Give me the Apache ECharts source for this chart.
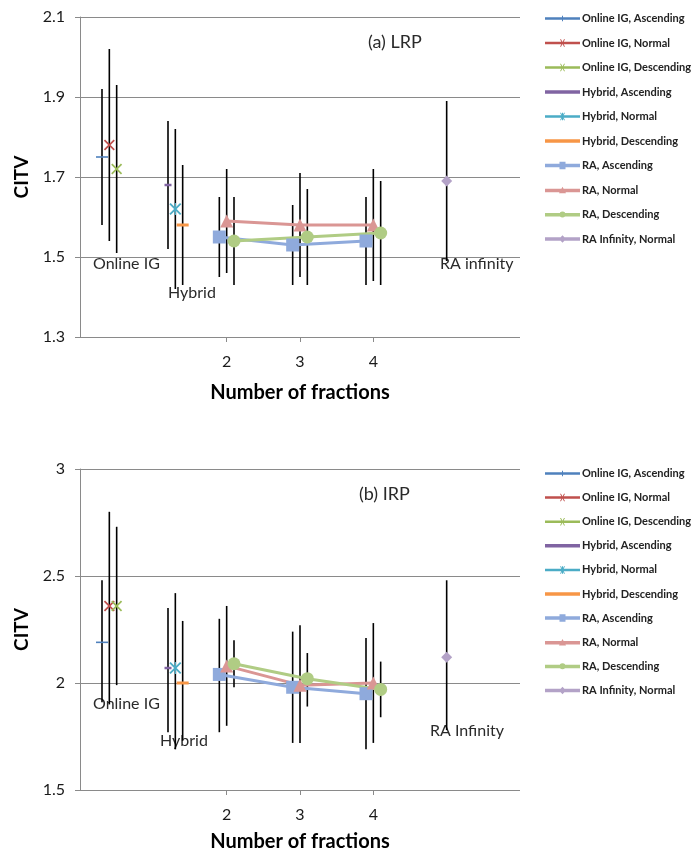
<!DOCTYPE html>
<html>
<head>
<meta charset="utf-8">
<script src="https://cdn.jsdelivr.net/npm/echarts@6/dist/echarts.min.js"></script>
<style>
html,body{margin:0;padding:0;background:#fff;}
#chart{width:691px;height:853px;}
</style>
</head>
<body>
<div id="chart"></div>
<script>
// ---------- DATA ----------
const seriesNames = ['Online IG, Ascending','Online IG, Normal','Online IG, Descending','Hybrid, Ascending','Hybrid, Normal','Hybrid, Descending','RA, Ascending','RA, Normal','RA, Descending','RA Infinity, Normal'];
const xTicks = [2, 3, 4];

// x positions of each series (x axis: number of fractions, groups offset)
const xOnlineAsc = [0.3];
const xOnlineNorm = [0.4];
const xOnlineDesc = [0.5];
const xHybridAsc = [1.2];
const xHybridNorm = [1.3];
const xHybridDesc = [1.4];
const xRAAsc = [1.9, 2.9, 3.9];
const xRANorm = [2, 3, 4];
const xRADesc = [2.1, 3.1, 4.1];
const xRAInf = [5];

// (a) LRP
const lrpOnlineAsc = [1.75],  lrpOnlineAscLo = [1.58],  lrpOnlineAscHi = [1.92];
const lrpOnlineNorm = [1.78], lrpOnlineNormLo = [1.54], lrpOnlineNormHi = [2.02];
const lrpOnlineDesc = [1.72], lrpOnlineDescLo = [1.51], lrpOnlineDescHi = [1.93];
const lrpHybridAsc = [1.68],  lrpHybridAscLo = [1.52],  lrpHybridAscHi = [1.84];
const lrpHybridNorm = [1.62], lrpHybridNormLo = [1.42], lrpHybridNormHi = [1.82];
const lrpHybridDesc = [1.58], lrpHybridDescLo = [1.43], lrpHybridDescHi = [1.73];
const lrpRAAsc = [1.55, 1.53, 1.54],  lrpRAAscLo = [1.45, 1.43, 1.43],  lrpRAAscHi = [1.65, 1.63, 1.65];
const lrpRANorm = [1.59, 1.58, 1.58], lrpRANormLo = [1.46, 1.45, 1.44], lrpRANormHi = [1.72, 1.71, 1.72];
const lrpRADesc = [1.54, 1.55, 1.56], lrpRADescLo = [1.43, 1.43, 1.43], lrpRADescHi = [1.65, 1.67, 1.69];
const lrpRAInf = [1.69], lrpRAInfLo = [1.49], lrpRAInfHi = [1.89];

// (b) IRP
const irpOnlineAsc = [2.19],  irpOnlineAscLo = [1.91],  irpOnlineAscHi = [2.48];
const irpOnlineNorm = [2.36], irpOnlineNormLo = [1.90], irpOnlineNormHi = [2.80];
const irpOnlineDesc = [2.36], irpOnlineDescLo = [1.99], irpOnlineDescHi = [2.73];
const irpHybridAsc = [2.07],  irpHybridAscLo = [1.77],  irpHybridAscHi = [2.35];
const irpHybridNorm = [2.07], irpHybridNormLo = [1.69], irpHybridNormHi = [2.42];
const irpHybridDesc = [2.00], irpHybridDescLo = [1.73], irpHybridDescHi = [2.29];
const irpRAAsc = [2.04, 1.98, 1.95],  irpRAAscLo = [1.77, 1.72, 1.69],  irpRAAscHi = [2.30, 2.24, 2.21];
const irpRANorm = [2.08, 1.99, 2.00], irpRANormLo = [1.80, 1.72, 1.72], irpRANormHi = [2.36, 2.27, 2.28];
const irpRADesc = [2.09, 2.02, 1.97], irpRADescLo = [1.98, 1.89, 1.84], irpRADescHi = [2.20, 2.14, 2.10];
const irpRAInf = [2.12], irpRAInfLo = [1.78], irpRAInfHi = [2.48];

// ---------- STYLES ----------
const FONT = 'Lato, "Liberation Sans", sans-serif';
const GRAY = '#8a8a8a';
const xPath = 'path://M0,1.1L1.1,0L10,8.9L8.9,10ZM8.9,0L10,1.1L1.1,10L0,8.9Z';
const astPath = 'path://M0,1.1L1.1,0L10,8.9L8.9,10ZM8.9,0L10,1.1L1.1,10L0,8.9ZM4.45,0L5.55,0L5.55,10L4.45,10Z';
const styles = [
  {color:'#4F81BD', symbol:'rect', size:[12,1.6], icon:'path://M0,3.5L35,3.5L35,6L0,6ZM17,2L18,2L18,7.5L17,7.5Z'},
  {color:'#C0504D', symbol:xPath, size:11, icon:'path://M0,3.5L35,3.5L35,6L0,6ZM15,1L16,1L20,8.5L19,8.5ZM19,1L20,1L16,8.5L15,8.5Z'},
  {color:'#9BBB59', symbol:xPath, size:11, icon:'path://M0,3.5L35,3.5L35,6L0,6ZM15,1L16,1L20,8.5L19,8.5ZM19,1L20,1L16,8.5L15,8.5Z'},
  {color:'#8064A2', symbol:'rect', size:[7,2.5], icon:'path://M0,3L35,3L35,6.5L0,6.5Z'},
  {color:'#4BACC6', symbol:astPath, size:12, icon:'path://M0,3.5L35,3.5L35,6L0,6ZM15,1L16,1L20,8.5L19,8.5ZM19,1L20,1L16,8.5L15,8.5ZM17,1L18,1L18,8.5L17,8.5Z'},
  {color:'#F79646', symbol:'rect', size:[12,3], icon:'path://M0,3L35,3L35,6.5L0,6.5Z'},
  {color:'#8FAADC', symbol:'rect', size:13, icon:'path://M0,3L35,3L35,6.5L0,6.5ZM14.5,1L20.5,1L20.5,8.5L14.5,8.5Z'},
  {color:'#DA9694', symbol:'triangle', size:13, icon:'path://M0,3L35,3L35,6.5L0,6.5ZM17.5,1L21,7.5L14,7.5Z'},
  {color:'#B0CC84', symbol:'circle', size:13, icon:'path://M0,3L35,3L35,6.5L0,6.5ZM17.5,1.5A3,3 0 1,1 17.49,1.5Z'},
  {color:'#B3A2C7', symbol:'diamond', size:11, icon:'path://M0,3L35,3L35,6.5L0,6.5ZM17.5,1L21,4.75L17.5,8.5L14,4.75Z'}
];

const xs = [xOnlineAsc, xOnlineNorm, xOnlineDesc, xHybridAsc, xHybridNorm, xHybridDesc, xRAAsc, xRANorm, xRADesc, xRAInf];
const lrpVals = [lrpOnlineAsc, lrpOnlineNorm, lrpOnlineDesc, lrpHybridAsc, lrpHybridNorm, lrpHybridDesc, lrpRAAsc, lrpRANorm, lrpRADesc, lrpRAInf];
const lrpLo = [lrpOnlineAscLo, lrpOnlineNormLo, lrpOnlineDescLo, lrpHybridAscLo, lrpHybridNormLo, lrpHybridDescLo, lrpRAAscLo, lrpRANormLo, lrpRADescLo, lrpRAInfLo];
const lrpHi = [lrpOnlineAscHi, lrpOnlineNormHi, lrpOnlineDescHi, lrpHybridAscHi, lrpHybridNormHi, lrpHybridDescHi, lrpRAAscHi, lrpRANormHi, lrpRADescHi, lrpRAInfHi];
const irpVals = [irpOnlineAsc, irpOnlineNorm, irpOnlineDesc, irpHybridAsc, irpHybridNorm, irpHybridDesc, irpRAAsc, irpRANorm, irpRADesc, irpRAInf];
const irpLo = [irpOnlineAscLo, irpOnlineNormLo, irpOnlineDescLo, irpHybridAscLo, irpHybridNormLo, irpHybridDescLo, irpRAAscLo, irpRANormLo, irpRADescLo, irpRAInfLo];
const irpHi = [irpOnlineAscHi, irpOnlineNormHi, irpOnlineDescHi, irpHybridAscHi, irpHybridNormHi, irpHybridDescHi, irpRAAscHi, irpRANormHi, irpRADescHi, irpRAInfHi];

function buildSeries(idx, vals, lo, hi, axisLine) {
  const out = [];
  const errData = [];
  for (let s = 0; s < seriesNames.length; s++) {
    const st = styles[s];
    const data = xs[s].map((x, i) => [x, vals[s][i]]);
    xs[s].forEach((x, i) => errData.push([x, lo[s][i], hi[s][i]]));
    out.push({
      type: 'line', name: seriesNames[s], xAxisIndex: idx, yAxisIndex: idx,
      data: data, symbol: st.symbol, symbolSize: st.size, showSymbol: true,
      itemStyle: {color: st.color, borderWidth: 0},
      lineStyle: {color: st.color, width: 3},
      z: 5, silent: true
    });
  }
  out.push({
    type: 'custom', name: 'err' + idx, xAxisIndex: idx, yAxisIndex: idx,
    data: errData, encode: {x: 0, y: [1, 2]}, z: 1, silent: true,
    renderItem: function (params, api) {
      const p1 = api.coord([api.value(0), api.value(1)]);
      const p2 = api.coord([api.value(0), api.value(2)]);
      return {type: 'line', shape: {x1: p1[0], y1: p1[1], x2: p2[0], y2: p2[1]}, style: {stroke: '#000', lineWidth: 1.6}};
    }
  });
  // partial x axis line
  out.push({
    type: 'line', name: 'axis' + idx, xAxisIndex: idx, yAxisIndex: idx, data: [], silent: true,
    markLine: {silent: true, symbol: ['none','none'], label: {show: false},
      lineStyle: {color: GRAY, width: 1, type: 'solid'},
      data: [[{coord: axisLine[0]}, {coord: axisLine[1]}]]}
  });
  return out;
}

function makeX(idx, gap) {
  return {
    type: 'value', gridIndex: idx, min: 0, max: 6,
    axisLine: {show: false},
    axisTick: {show: true, length: 5, inside: false, customValues: xTicks, lineStyle: {color: GRAY}},
    axisLabel: {show: true, customValues: xTicks, margin: 17, fontFamily: FONT, fontSize: 16, color: '#1a1a1a'},
    splitLine: {show: false},
    name: 'Number of fractions', nameLocation: 'middle', nameGap: gap,
    nameTextStyle: {fontFamily: FONT, fontSize: 20, fontWeight: 'bold', color: '#000'}
  };
}
function makeY(idx, min, max, interval) {
  return {
    type: 'value', gridIndex: idx, min: min, max: max, interval: interval,
    axisLine: {show: true, lineStyle: {color: GRAY}},
    axisTick: {show: true, length: 5, inside: false, lineStyle: {color: GRAY}},
    axisLabel: {margin: 15, fontFamily: FONT, fontSize: 16, color: '#1a1a1a'},
    splitLine: {show: true, lineStyle: {color: GRAY, width: 1}},
    name: 'CITV', nameLocation: 'middle', nameGap: 48, nameRotate: 90,
    nameTextStyle: {fontFamily: FONT, fontSize: 19, fontWeight: 'bold', color: '#000'}
  };
}
function makeLegend(top, gap) {
  return {
    orient: 'vertical', left: 545, top: top, padding: 0,
    itemWidth: 35, itemHeight: 10, itemGap: gap, symbolKeepAspect: true,
    selectedMode: false,
    data: seriesNames.map((n, i) => ({name: n, icon: styles[i].icon})),
    textStyle: {fontFamily: FONT, fontSize: 11, fontWeight: 'bold', color: '#222', padding: [0,0,0,-3]}
  };
}
function txt(left, top, text, size) {
  return {type: 'text', left: left, top: top, style: {text: text, fontFamily: FONT, fontSize: size || 16, fill: '#2a2a2a'}};
}

const chart = echarts.init(document.getElementById('chart'), null, {renderer: 'canvas'});
chart.setOption({
  animation: false,
  backgroundColor: '#fff',
  grid: [
    {left: 80, top: 17, width: 440, height: 320},
    {left: 80, top: 469, width: 440, height: 321}
  ],
  xAxis: [makeX(0, 46), makeX(1, 42)],
  yAxis: [makeY(0, 1.3, 2.1, 0.2), makeY(1, 1.5, 3, 0.5)],
  legend: [makeLegend(13, 13.5), makeLegend(468, 13.1)],
  graphic: [
    txt(368, 33, '(a) LRP', 18),
    txt(93, 256, 'Online IG'),
    txt(168, 285, 'Hybrid'),
    txt(440, 256, 'RA infinity'),
    txt(359, 485, '(b) IRP', 18),
    txt(93, 696, 'Online IG'),
    txt(160, 733, 'Hybrid'),
    txt(430, 723, 'RA Infinity')
  ],
  series: [].concat(
    buildSeries(0, lrpVals, lrpLo, lrpHi, [[1.6, 1.3], [4.73, 1.3]]),
    buildSeries(1, irpVals, irpLo, irpHi, [[1.47, 1.5], [4.85, 1.5]])
  )
});
</script>
</body>
</html>
